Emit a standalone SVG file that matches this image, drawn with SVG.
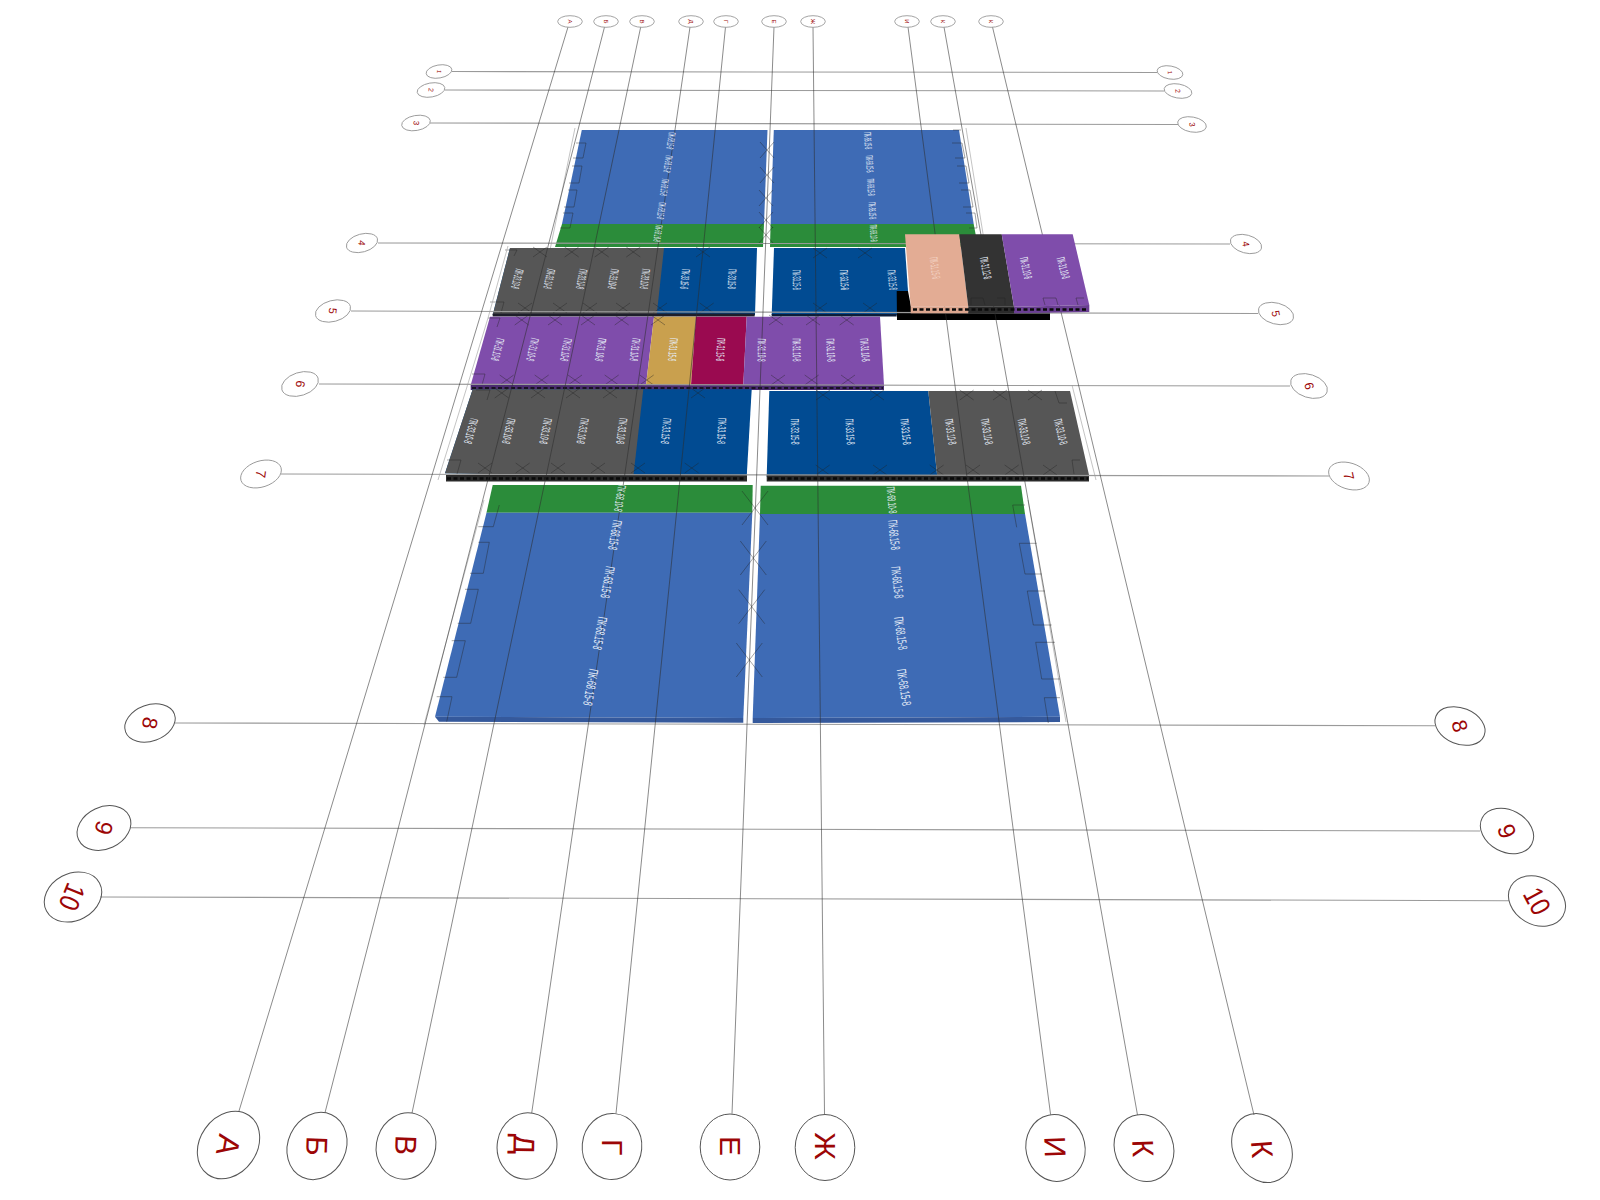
<svg xmlns="http://www.w3.org/2000/svg" width="1600" height="1200" viewBox="0 0 1600 1200">
<style>
text{font-family:"Liberation Sans",Arial,sans-serif}
.b{fill:none;stroke:#555;stroke-width:1}
.bw{fill:#fff;stroke:#999;stroke-width:.9}
.t{fill:#9c0606;text-anchor:middle;dominant-baseline:central}
.p{fill:#e6edf7;font-size:11.5px;text-anchor:middle;dominant-baseline:central}
.p10{font-size:10px}
.p13{font-size:13px}
.r{stroke:#9a9a9a;stroke-width:1.1;fill:none}
.c{stroke:#2d2d2d;stroke-opacity:.62;stroke-width:.9;fill:none}
.x{stroke:#222;stroke-opacity:.45;stroke-width:.9;fill:none}
.thin{stroke:#aaa;stroke-width:.7;fill:none}
.h{stroke:#0a0a0a;stroke-width:2.4;stroke-dasharray:4 2.5;fill:none}
.bl{fill:#3e6bb5}.gr{fill:#2b8c3a}.db{fill:#014b92}.gy{fill:#565656}.pu{fill:#7f4dab}
</style>
<defs>
<path id="xs" class="x" d="M-7-5 7 5M-7 5 7-5"/>
<path id="xm" class="x" d="M-7-8 7 8M-7 8 7-8"/>
<path id="xl" class="x" d="M-13-17 13 17M-13 17 13-17"/>
</defs>

<g id="slab-top-left"><polygon class="bl" points="581.8,130 767.5,130 764,224 562,224"/><polygon class="gr" points="562,224 764,224 763,247 555,247"/></g>
<g id="slab-top-right"><polygon class="bl" points="773.8,130 959,130 973.7,224 770.6,224"/><polygon class="gr" points="770.6,224 973.7,224 978,247 770,247"/></g>
<g id="supports-top">
<path class="thin" d="M575,128 550,250M966,128 984,240"/>
<path class="x" d="M576,143h10l-3,15h-10M572,166h10l-3,17h-10M568,190h9l-3,17h-10M563,213h10l-3,15h-10"/>
<path class="x" d="M953,130h8M952,143h10l3,15h-10M957,166h9l3,17h-10M961,190h9l3,17h-10M966,213h9l2,15h-8"/>
</g>
<g id="slab-row4-left"><polygon class="db" points="510,248 757,248 755,315 492.7,315"/><polygon class="gy" points="510,248 664,248 656.7,315 492.7,315"/><rect x="492.7" y="313.5" width="262" height="3" fill="#1e1e2a"/></g>
<g id="slab-row4-right"><polygon class="db" points="774,248 905,248 908,291 896.7,315 771.7,315"/><polygon fill="#000" points="896.7,291 908,291 912,312 1050,312 1050,320 897,320"/><rect x="771.7" y="314" width="125" height="2.5" fill="#0c1d3a"/></g>
<g id="slab-row5-left">
<polygon class="pu" points="490,316.7 654,316.7 646,385 470.7,385"/>
<polygon fill="#c9a04e" points="654,316.7 696,316.7 691,385 646,385"/>
<polygon fill="#9a0a50" points="696,316.7 746.7,316.7 743.3,385 691,385"/>
<polygon class="pu" points="746.7,316.7 880,316.7 884,385 743.3,385"/>
<rect x="470.7" y="385" width="413.3" height="5" fill="#4a2c70"/>
<line class="h" x1="472" y1="388" x2="883" y2="388" style="stroke-width:1.6"/>
</g>
<g id="slab-row7-left"><polygon class="db" points="472.7,389.3 751.7,389.3 746.7,476.7 445,473.3"/><polygon class="gy" points="472.7,389.3 643.3,389.3 633.3,476.7 445,473.3"/><rect x="446" y="475" width="301" height="6.5" fill="#2a2a2a"/><line class="h" x1="447" y1="478.5" x2="746" y2="478.5"/></g>
<g id="slab-row7-right"><polygon class="db" points="769.3,391 928.3,391 937.3,476.7 766.7,476.7"/><polygon class="gy" points="928.3,391 1070,391 1089,475 937.3,476.7"/><rect x="766.7" y="475" width="322.3" height="6.5" fill="#2a2a2a"/><line class="h" x1="768" y1="478.5" x2="1088" y2="478.5"/></g>
<g id="slab-bottom-left"><polygon class="gr" points="492.7,485 752.7,485 752.3,512.7 486.5,512.7"/><polygon class="bl" points="486.5,512.7 752.3,512.7 743.3,718 435,716.7"/><polygon fill="#35599c" points="435,716.7 743.3,718 743.3,722.7 439,721.7"/></g>
<g id="slab-bottom-right"><polygon class="gr" points="760.7,485.7 1021,485.7 1025,514 760,514"/><polygon class="bl" points="760,514 1025,514 1060,716.7 752.7,718"/><polygon fill="#35599c" points="752.7,718 1060,716.7 1060,722 752.7,723"/></g>
<g id="supports-bottom">
<path class="thin" d="M484,500 424,725M1028,500 1066,722"/>
<path class="x" d="M499.3,505 493.3,526.7H478.3M478.3,542.3h11l-6,31H470M465,589.3h13.3l-7.6,34H457.7M451.7,640.7h13.6l-8.6,36.6H443.3M436.7,696.7H452l-5.3,25"/>
<path class="x" d="M1025,505h-12.3l4,22.3M1036.7,543.3h-17.4l5.7,30.7h16.7M1045,591h-17.7l6,34h18.4M1055,642.3h-19.3l6,36.7H1060M1060,697.7h-15.7l4,25.3"/>
</g>
<g id="supports-middle">
<path class="x" d="M505,250h12l-3,6M490,302h14l-3,11M488,318h12l-3,9M472,374h13l-3,11M476,390h14l-3,10M447,460h14l-4,14M1055,391l4,12h8M1080,460h-8l2,14"/>
<path class="thin" d="M508,246 488,318 466,390 438,480M1072,385l24,95"/>
</g>
<g id="marks">
<use href="#xm" x="767" y="150"/><use href="#xm" x="767" y="175"/><use href="#xm" x="766" y="198"/><use href="#xm" x="766" y="220"/><use href="#xm" x="766" y="235"/>
<use href="#xl" x="755" y="508"/><use href="#xl" x="753.3" y="558"/><use href="#xl" x="751.7" y="606.7"/><use href="#xl" x="749.3" y="660"/>
<use href="#xs" x="540" y="252"/><use href="#xs" x="571.7" y="252"/><use href="#xs" x="601.7" y="252"/><use href="#xs" x="633.3" y="252"/><use href="#xs" x="703" y="252"/><use href="#xs" x="820" y="253"/><use href="#xs" x="865" y="253"/>
<use href="#xs" x="525" y="308"/><use href="#xs" x="560" y="308"/><use href="#xs" x="590" y="308"/><use href="#xs" x="623" y="308"/><use href="#xs" x="660" y="308"/><use href="#xs" x="706.7" y="308"/><use href="#xs" x="820" y="308"/><use href="#xs" x="870" y="308"/>
<use href="#xs" x="521.7" y="320"/><use href="#xs" x="555" y="320"/><use href="#xs" x="588" y="320"/><use href="#xs" x="621.7" y="320"/><use href="#xs" x="658" y="320"/><use href="#xs" x="776" y="320"/><use href="#xs" x="813" y="320"/><use href="#xs" x="846.7" y="320"/>
<use href="#xs" x="506.7" y="380"/><use href="#xs" x="541.7" y="380"/><use href="#xs" x="575" y="380"/><use href="#xs" x="611.7" y="380"/><use href="#xs" x="646.7" y="380"/><use href="#xs" x="778" y="380"/><use href="#xs" x="811.7" y="380"/><use href="#xs" x="848" y="380"/>
<use href="#xs" x="501.7" y="393"/><use href="#xs" x="538" y="393"/><use href="#xs" x="573" y="393"/><use href="#xs" x="610" y="393"/><use href="#xs" x="698" y="393"/><use href="#xs" x="823" y="395"/><use href="#xs" x="877" y="395"/><use href="#xs" x="966.7" y="395"/><use href="#xs" x="1000" y="395"/><use href="#xs" x="1035" y="395"/>
<use href="#xs" x="485" y="468"/><use href="#xs" x="522.7" y="468"/><use href="#xs" x="558" y="468"/><use href="#xs" x="598" y="468"/><use href="#xs" x="638" y="468"/><use href="#xs" x="691.7" y="468"/><use href="#xs" x="822.7" y="470"/><use href="#xs" x="880" y="470"/><use href="#xs" x="936.7" y="470"/><use href="#xs" x="973" y="470"/><use href="#xs" x="1011.7" y="470"/><use href="#xs" x="1050" y="470"/>
</g>

<g id="connectors">
<path class="r" d="M452,71.5 1157,72.5M445,90 1164,91M430,123 1178,124.5M378,243 1230,244M351,311 1258,313.5M319,384 1290,386M281,474 1329,476M175,723 1435,725.7M130,827.7 1480,831M100,897 1509,900.7"/>
<path class="c" d="M568,27 238.7,1112M604.5,27 325,1112.7M640.7,27 412,1113M690,27 531.7,1113M725.5,27 616,1113.5M774,27 732,1113.7M813,27 824.5,1114M908,27 1050.6,1114.7M944,27 1137.5,1115M992.5,27 1254,1115"/>
</g>

<g id="slab-raised">
<polygon fill="#e3ac94" points="905,234.3 959.3,234.3 968.3,306.7 910.7,306.7"/>
<polygon fill="#333" points="959.3,234.3 1001.7,234.3 1014,306.7 968.3,306.7"/>
<polygon class="pu" points="1001.7,234.3 1072.7,234.3 1089.3,305 1014,306.7"/>
<rect x="910.7" y="306.7" width="57.6" height="6.6" fill="#dba58e"/>
<rect x="968.3" y="306.7" width="46" height="6.6" fill="#2a2a2a"/>
<polygon points="1014,306.7 1089.3,305 1089.3,312 1014,313.3" fill="#6a3f92"/>
<line class="h" x1="913" y1="309.5" x2="1087" y2="309.5"/>
<path class="x" d="M971,305v-7h12l2,7M1005,305v-7h-8M1045,305l-2-7h13l2,7M1078,305l-2-7h8"/>
</g>

<g id="labels">
<text class="p p10" lengthAdjust="spacingAndGlyphs" textLength="17" transform="translate(671 140.7) rotate(98)">ПК-68.15-8</text>
<text class="p p10" lengthAdjust="spacingAndGlyphs" textLength="17" transform="translate(668 164) rotate(98)">ПК-68.15-8</text>
<text class="p p10" lengthAdjust="spacingAndGlyphs" textLength="17" transform="translate(664.4 187.3) rotate(98)">ПК-68.15-8</text>
<text class="p p10" lengthAdjust="spacingAndGlyphs" textLength="17" transform="translate(661.3 210.7) rotate(98)">ПК-68.15-8</text>
<text class="p p10" lengthAdjust="spacingAndGlyphs" textLength="17" transform="translate(658 233.3) rotate(98)">ПК-68.10-8</text>
<text class="p p10" lengthAdjust="spacingAndGlyphs" textLength="17" transform="translate(868 140.7) rotate(86.5)">ПК-68.15-8</text>
<text class="p p10" lengthAdjust="spacingAndGlyphs" textLength="17" transform="translate(869.7 164) rotate(86.5)">ПК-68.15-8</text>
<text class="p p10" lengthAdjust="spacingAndGlyphs" textLength="17" transform="translate(871 187.3) rotate(86.5)">ПК-68.15-8</text>
<text class="p p10" lengthAdjust="spacingAndGlyphs" textLength="17" transform="translate(872.4 210.7) rotate(86.5)">ПК-68.15-8</text>
<text class="p p10" lengthAdjust="spacingAndGlyphs" textLength="17" transform="translate(873.7 233.3) rotate(86.5)">ПК-68.10-8</text>

<text class="p" lengthAdjust="spacingAndGlyphs" textLength="20" transform="translate(517.3 279) rotate(104.4)">ПК-33.10-8</text>
<text class="p" lengthAdjust="spacingAndGlyphs" textLength="20" transform="translate(549.3 279) rotate(102.6)">ПК-33.10-8</text>
<text class="p" lengthAdjust="spacingAndGlyphs" textLength="20" transform="translate(581.7 279) rotate(100.8)">ПК-33.10-8</text>
<text class="p" lengthAdjust="spacingAndGlyphs" textLength="20" transform="translate(613.3 279) rotate(99.1)">ПК-33.10-8</text>
<text class="p" lengthAdjust="spacingAndGlyphs" textLength="20" transform="translate(645 279) rotate(97.3)">ПК-33.10-8</text>
<text class="p" lengthAdjust="spacingAndGlyphs" textLength="20" transform="translate(685 279) rotate(95.1)">ПК-33.15-8</text>
<text class="p" lengthAdjust="spacingAndGlyphs" textLength="20" transform="translate(732 279) rotate(92.5)">ПК-33.15-8</text>
<text class="p" lengthAdjust="spacingAndGlyphs" textLength="20" transform="translate(796.7 280) rotate(89)">ПК-33.15-8</text>
<text class="p" lengthAdjust="spacingAndGlyphs" textLength="20" transform="translate(844.3 280) rotate(86.4)">ПК-33.15-8</text>
<text class="p" lengthAdjust="spacingAndGlyphs" textLength="20" transform="translate(892.3 280) rotate(83.7)">ПК-33.15-8</text>

<text class="p" lengthAdjust="spacingAndGlyphs" textLength="22" transform="translate(935 268) rotate(82)" style="fill:#f3d4c6">ПК-31.15-8</text>
<text class="p" lengthAdjust="spacingAndGlyphs" textLength="22" transform="translate(985.7 268) rotate(79)">ПК-31.12-8</text>
<text class="p" lengthAdjust="spacingAndGlyphs" textLength="22" transform="translate(1026 268) rotate(77)">ПК-31.10-8</text>
<text class="p" lengthAdjust="spacingAndGlyphs" textLength="22" transform="translate(1063.3 268) rotate(75)">ПК-31.10-8</text>

<text class="p" lengthAdjust="spacingAndGlyphs" textLength="23" transform="translate(497.7 349.7) rotate(104.5)">ПК-31.10-8</text>
<text class="p" lengthAdjust="spacingAndGlyphs" textLength="23" transform="translate(532.7 349.7) rotate(102.7)">ПК-31.10-8</text>
<text class="p" lengthAdjust="spacingAndGlyphs" textLength="23" transform="translate(566 349.7) rotate(100.9)">ПК-31.10-8</text>
<text class="p" lengthAdjust="spacingAndGlyphs" textLength="23" transform="translate(600.7 349.7) rotate(99.1)">ПК-31.10-8</text>
<text class="p" lengthAdjust="spacingAndGlyphs" textLength="23" transform="translate(635 349.7) rotate(97.4)">ПК-31.10-8</text>
<text class="p" lengthAdjust="spacingAndGlyphs" textLength="23" transform="translate(673 349.7) rotate(95.4)">ПК-31.15-8</text>
<text class="p" lengthAdjust="spacingAndGlyphs" textLength="23" transform="translate(720.7 349.7) rotate(93)">ПК-31.15-8</text>
<text class="p" lengthAdjust="spacingAndGlyphs" textLength="23" transform="translate(761.7 350) rotate(90.8)">ПК-31.10-8</text>
<text class="p" lengthAdjust="spacingAndGlyphs" textLength="23" transform="translate(796.7 350) rotate(89)">ПК-31.10-8</text>
<text class="p" lengthAdjust="spacingAndGlyphs" textLength="23" transform="translate(830.7 350) rotate(87.3)">ПК-31.10-8</text>
<text class="p" lengthAdjust="spacingAndGlyphs" textLength="23" transform="translate(865 350) rotate(85.5)">ПК-31.10-8</text>

<text class="p" lengthAdjust="spacingAndGlyphs" textLength="26" transform="translate(471 431) rotate(104.8)">ПК-33.10-8</text>
<text class="p" lengthAdjust="spacingAndGlyphs" textLength="26" transform="translate(508.7 431) rotate(102.9)">ПК-33.10-8</text>
<text class="p" lengthAdjust="spacingAndGlyphs" textLength="26" transform="translate(545.7 431) rotate(101.2)">ПК-33.10-8</text>
<text class="p" lengthAdjust="spacingAndGlyphs" textLength="26" transform="translate(582.7 431) rotate(99.4)">ПК-33.10-8</text>
<text class="p" lengthAdjust="spacingAndGlyphs" textLength="26" transform="translate(621.7 431) rotate(97.5)">ПК-33.10-8</text>
<text class="p" lengthAdjust="spacingAndGlyphs" textLength="26" transform="translate(666 431) rotate(95.4)">ПК-33.15-8</text>
<text class="p" lengthAdjust="spacingAndGlyphs" textLength="26" transform="translate(721.7 431) rotate(92.7)">ПК-33.15-8</text>
<text class="p" lengthAdjust="spacingAndGlyphs" textLength="26" transform="translate(795 431.7) rotate(89.2)">ПК-33.15-8</text>
<text class="p" lengthAdjust="spacingAndGlyphs" textLength="26" transform="translate(850 431.7) rotate(86.5)">ПК-33.15-8</text>
<text class="p" lengthAdjust="spacingAndGlyphs" textLength="26" transform="translate(905.7 431.7) rotate(83.8)">ПК-33.15-8</text>
<text class="p" lengthAdjust="spacingAndGlyphs" textLength="26" transform="translate(950.7 431.7) rotate(81.7)">ПК-33.10-8</text>
<text class="p" lengthAdjust="spacingAndGlyphs" textLength="26" transform="translate(987 431.7) rotate(80)">ПК-33.10-8</text>
<text class="p" lengthAdjust="spacingAndGlyphs" textLength="26" transform="translate(1024 431.7) rotate(78.2)">ПК-33.10-8</text>
<text class="p" lengthAdjust="spacingAndGlyphs" textLength="26" transform="translate(1060.7 431.7) rotate(76.4)">ПК-33.10-8</text>

<text class="p" lengthAdjust="spacingAndGlyphs" textLength="27" transform="translate(620 498.3) rotate(99)">ПК-68.10-8</text>
<text class="p p13" lengthAdjust="spacingAndGlyphs" textLength="30" transform="translate(615 535) rotate(100)">ПК-68.15-8</text>
<text class="p p13" lengthAdjust="spacingAndGlyphs" textLength="32" transform="translate(607.7 582.3) rotate(100)">ПК-68.15-8</text>
<text class="p p13" lengthAdjust="spacingAndGlyphs" textLength="33" transform="translate(600 633.3) rotate(100)">ПК-68.15-8</text>
<text class="p p13" lengthAdjust="spacingAndGlyphs" textLength="37" transform="translate(590.7 687.3) rotate(100)">ПК-68.15-8</text>
<text class="p" lengthAdjust="spacingAndGlyphs" textLength="27" transform="translate(891.7 500) rotate(85)">ПК-68.10-8</text>
<text class="p p13" lengthAdjust="spacingAndGlyphs" textLength="30" transform="translate(894 535) rotate(84)">ПК-68.15-8</text>
<text class="p p13" lengthAdjust="spacingAndGlyphs" textLength="32" transform="translate(897.3 582.3) rotate(83)">ПК-68.15-8</text>
<text class="p p13" lengthAdjust="spacingAndGlyphs" textLength="33" transform="translate(900.7 633.3) rotate(82)">ПК-68.15-8</text>
<text class="p p13" lengthAdjust="spacingAndGlyphs" textLength="37" transform="translate(904 687.3) rotate(81)">ПК-68.15-8</text>
</g>

<g id="axis-top-А"><ellipse class="bw" cx="570" cy="21.5" rx="12.3" ry="5.8"/><text class="t" font-size="6" transform="translate(570 21.5) rotate(90)">А</text></g>
<g id="axis-top-Б"><ellipse class="bw" cx="606" cy="21.5" rx="12.3" ry="5.8"/><text class="t" font-size="6" transform="translate(606 21.5) rotate(90)">Б</text></g>
<g id="axis-top-В"><ellipse class="bw" cx="642" cy="21.5" rx="12.3" ry="5.8"/><text class="t" font-size="6" transform="translate(642 21.5) rotate(90)">В</text></g>
<g id="axis-top-Д"><ellipse class="bw" cx="691" cy="21.5" rx="12.3" ry="5.8"/><text class="t" font-size="6" transform="translate(691 21.5) rotate(90)">Д</text></g>
<g id="axis-top-Г"><ellipse class="bw" cx="726" cy="21.5" rx="12.3" ry="5.8"/><text class="t" font-size="6" transform="translate(726 21.5) rotate(90)">Г</text></g>
<g id="axis-top-Е"><ellipse class="bw" cx="774" cy="21.5" rx="12.3" ry="5.8"/><text class="t" font-size="6" transform="translate(774 21.5) rotate(90)">Е</text></g>
<g id="axis-top-Ж"><ellipse class="bw" cx="813" cy="21.5" rx="12.3" ry="5.8"/><text class="t" font-size="6" transform="translate(813 21.5) rotate(90)">Ж</text></g>
<g id="axis-top-И"><ellipse class="bw" cx="907" cy="21.5" rx="12.3" ry="5.8"/><text class="t" font-size="6" transform="translate(907 21.5) rotate(90)">И</text></g>
<g id="axis-top-К1"><ellipse class="bw" cx="943" cy="21.5" rx="12.3" ry="5.8"/><text class="t" font-size="6" transform="translate(943 21.5) rotate(90)">К</text></g>
<g id="axis-top-К2"><ellipse class="bw" cx="991" cy="21.5" rx="12.3" ry="5.8"/><text class="t" font-size="6" transform="translate(991 21.5) rotate(90)">К</text></g>

<g id="axis-bottom-А"><ellipse class="b" cx="228.5" cy="1145" rx="36" ry="28.5" transform="rotate(-55 228.5 1145)"/><text class="t" font-size="31" transform="translate(228 1145) rotate(100)">А</text></g>
<g id="axis-bottom-Б"><ellipse class="b" cx="317" cy="1146" rx="34.5" ry="29" transform="rotate(-65 317 1146)"/><text class="t" font-size="30" transform="translate(317 1146) rotate(92)">Б</text></g>
<g id="axis-bottom-В"><ellipse class="b" cx="406" cy="1146" rx="33.5" ry="29.5" transform="rotate(-72 406 1146)"/><text class="t" font-size="30" transform="translate(406 1145) rotate(92)">В</text></g>
<g id="axis-bottom-Д"><ellipse class="b" cx="527" cy="1146" rx="33.3" ry="29.8" transform="rotate(-80 527 1146)"/><text class="t" font-size="30" transform="translate(524 1144) rotate(91)">Д</text></g>
<g id="axis-bottom-Г"><ellipse class="b" cx="612" cy="1146.5" rx="33" ry="29.8" transform="rotate(-85 612 1146.5)"/><text class="t" font-size="30" transform="translate(612 1147) rotate(90)">Г</text></g>
<g id="axis-bottom-Е"><ellipse class="b" cx="730" cy="1147" rx="29.8" ry="33"/><text class="t" font-size="30" transform="translate(730 1146) rotate(90)">Е</text></g>
<g id="axis-bottom-Ж"><ellipse class="b" cx="825" cy="1147.5" rx="29.8" ry="33"/><text class="t" font-size="30" transform="translate(825 1146) rotate(90)">Ж</text></g>
<g id="axis-bottom-И"><ellipse class="b" cx="1055.5" cy="1148" rx="33.5" ry="29.5" transform="rotate(78 1055.5 1148)"/><text class="t" font-size="30" transform="translate(1055 1147) rotate(88)">И</text></g>
<g id="axis-bottom-К1"><ellipse class="b" cx="1144" cy="1148" rx="34" ry="29.3" transform="rotate(70 1144 1148)"/><text class="t" font-size="30" transform="translate(1143 1148) rotate(88)">К</text></g>
<g id="axis-bottom-К2"><ellipse class="b" cx="1262" cy="1148" rx="36" ry="28.5" transform="rotate(62 1262 1148)"/><text class="t" font-size="30" transform="translate(1262 1149) rotate(86)">К</text></g>

<g id="axis-left-1"><ellipse class="bw" cx="439" cy="71.5" rx="13" ry="6.5" transform="rotate(-10 439 71.5)"/><text class="t" font-size="6" transform="translate(439 71.5) rotate(95)">1</text></g>
<g id="axis-left-2"><ellipse class="bw" cx="431" cy="90" rx="14" ry="7" transform="rotate(-10 431 90)"/><text class="t" font-size="7" transform="translate(431 90) rotate(95)">2</text></g>
<g id="axis-left-3"><ellipse class="bw" cx="416" cy="123" rx="14.5" ry="7.5" transform="rotate(-10 416 123)"/><text class="t" font-size="8" transform="translate(416 123) rotate(95)">3</text></g>
<g id="axis-left-4"><ellipse class="bw" cx="362" cy="243" rx="16" ry="9" transform="rotate(-15 362 243)"/><text class="t" font-size="9.5" transform="translate(362 243) rotate(95)">4</text></g>
<g id="axis-left-5"><ellipse class="bw" cx="333" cy="311" rx="18" ry="10.5" transform="rotate(-15 333 311)"/><text class="t" font-size="11" transform="translate(333 311) rotate(95)">5</text></g>
<g id="axis-left-6"><ellipse class="bw" cx="300" cy="384" rx="19" ry="11.5" transform="rotate(-18 300 384)"/><text class="t" font-size="12.5" transform="translate(300 384) rotate(97)">6</text></g>
<g id="axis-left-7"><ellipse class="bw" cx="261" cy="474" rx="21" ry="13" transform="rotate(-18 261 474)"/><text class="t" font-size="14" transform="translate(261 474) rotate(97)">7</text></g>
<g id="axis-left-8"><ellipse class="b" cx="150" cy="723" rx="26" ry="18" transform="rotate(-20 150 723)"/><text class="t" font-size="21" transform="translate(150 723) rotate(100)">8</text></g>
<g id="axis-left-9"><ellipse class="b" cx="104" cy="828" rx="28" ry="21" transform="rotate(-25 104 828)"/><text class="t" font-size="24" transform="translate(104 828) rotate(105)">9</text></g>
<g id="axis-left-10"><ellipse class="b" cx="73" cy="897" rx="30" ry="23.5" transform="rotate(-28 73 897)"/><text class="t" font-size="28" transform="translate(72 897) rotate(112) scale(.85 1)">10</text></g>

<g id="axis-right-1"><ellipse class="bw" cx="1170" cy="72.5" rx="13" ry="6.5" transform="rotate(10 1170 72.5)"/><text class="t" font-size="6" transform="translate(1170 72.5) rotate(85)">1</text></g>
<g id="axis-right-2"><ellipse class="bw" cx="1178" cy="91" rx="14" ry="7" transform="rotate(10 1178 91)"/><text class="t" font-size="7" transform="translate(1178 91) rotate(85)">2</text></g>
<g id="axis-right-3"><ellipse class="bw" cx="1192" cy="124.5" rx="14.5" ry="7.5" transform="rotate(10 1192 124.5)"/><text class="t" font-size="8" transform="translate(1192 124.5) rotate(85)">3</text></g>
<g id="axis-right-4"><ellipse class="bw" cx="1246" cy="244" rx="16" ry="9" transform="rotate(15 1246 244)"/><text class="t" font-size="9.5" transform="translate(1246 244) rotate(82)">4</text></g>
<g id="axis-right-5"><ellipse class="bw" cx="1276" cy="313.5" rx="18" ry="10.5" transform="rotate(15 1276 313.5)"/><text class="t" font-size="11" transform="translate(1276 313.5) rotate(80)">5</text></g>
<g id="axis-right-6"><ellipse class="bw" cx="1309" cy="386" rx="19" ry="11.5" transform="rotate(18 1309 386)"/><text class="t" font-size="12.5" transform="translate(1309 386) rotate(78)">6</text></g>
<g id="axis-right-7"><ellipse class="bw" cx="1349" cy="476" rx="21" ry="13" transform="rotate(18 1349 476)"/><text class="t" font-size="14" transform="translate(1349 476) rotate(78)">7</text></g>
<g id="axis-right-8"><ellipse class="b" cx="1460" cy="726" rx="26" ry="18" transform="rotate(22 1460 726)"/><text class="t" font-size="21" transform="translate(1460 726) rotate(75)">8</text></g>
<g id="axis-right-9"><ellipse class="b" cx="1507" cy="831" rx="28" ry="21" transform="rotate(28 1507 831)"/><text class="t" font-size="24" transform="translate(1507 831) rotate(70)">9</text></g>
<g id="axis-right-10"><ellipse class="b" cx="1537" cy="901" rx="30" ry="23.5" transform="rotate(30 1537 901)"/><text class="t" font-size="28" transform="translate(1537 901) rotate(62) scale(.85 1)">10</text></g>
</svg>
